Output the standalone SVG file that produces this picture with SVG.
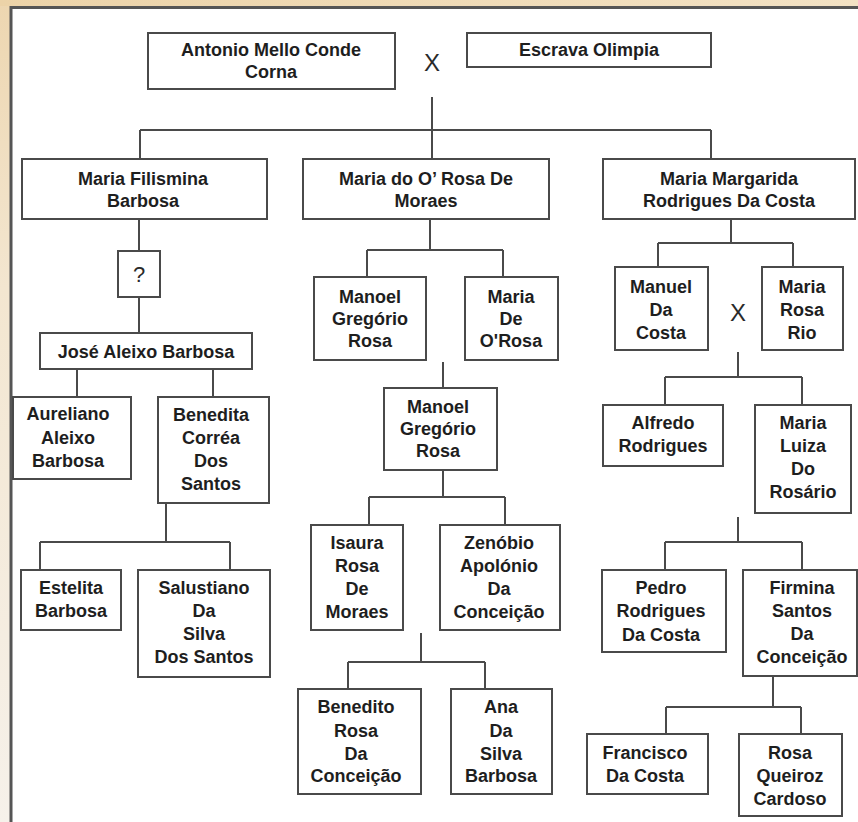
<svg xmlns="http://www.w3.org/2000/svg" width="858" height="822" viewBox="0 0 858 822">
<defs>
<linearGradient id="bgL" x1="0" y1="0" x2="0" y2="1">
<stop offset="0" stop-color="#edd6b0"/>
<stop offset="0.35" stop-color="#f3e6d0"/>
<stop offset="1" stop-color="#f6f1ea"/>
</linearGradient>
<linearGradient id="bgT" x1="0" y1="0" x2="1" y2="0">
<stop offset="0" stop-color="#ecd3a8"/>
<stop offset="1" stop-color="#f3e2c4"/>
</linearGradient>
</defs>
<style>
.box{fill:#ffffff;stroke:#4a4a4a;stroke-width:2}
.t{font-family:"Liberation Sans",Arial,sans-serif;font-weight:bold;font-size:18px;fill:#1e1e1e;text-anchor:middle}
.x{font-family:"Liberation Sans",Arial,sans-serif;font-weight:normal;font-size:24px;fill:#2a2a2a;text-anchor:middle}
.c{fill:none;stroke:#4a4a4a;stroke-width:2}
</style>
<rect x="0" y="0" width="858" height="822" fill="#ffffff"/>
<rect x="0" y="0" width="10" height="822" fill="url(#bgL)"/>
<rect x="0" y="0" width="858" height="6" fill="url(#bgT)"/>
<path d="M11,822 V7.5 H858" fill="none" stroke="#555555" stroke-width="3"/>

<g id="connectors" class="c">
<path d="M432,97 V159 M140,130 H711 M140,130 V159 M711,130 V159"/>
<path d="M139,219 V251 M139,297 V333"/>
<path d="M77,369 V397 M213,369 V397"/>
<path d="M166,503 V542 M40,542 H230 M40,542 V570 M230,542 V570"/>
<path d="M430,219 V250 M367,250 H503 M367,250 V277 M503,250 V277"/>
<path d="M443,362 V388"/>
<path d="M443,470 V497 M369,497 H505 M369,497 V525 M505,497 V525"/>
<path d="M421,633 V662 M348,662 H485 M348,662 V689 M485,662 V689"/>
<path d="M731,219 V243 M658,243 H793 M658,243 V267 M793,243 V267"/>
<path d="M738,352 V377 M665,377 H802 M665,377 V405 M802,377 V405"/>
<path d="M738,517 V542 M665,542 H802 M665,542 V570 M802,542 V570"/>
<path d="M773,676 V707 M666,707 H801 M666,707 V734 M801,707 V734"/>
</g>

<g id="antonio"><rect class="box" x="148" y="33" width="247" height="56"/>
<text class="t" x="271" y="56">Antonio Mello Conde</text><text class="t" x="271" y="78">Corna</text></g>
<g id="x1"><text class="x" x="432" y="71">X</text></g>
<g id="escrava"><rect class="box" x="467" y="33" width="244" height="34"/>
<text class="t" x="589" y="56">Escrava Olimpia</text></g>

<g id="filismina"><rect class="box" x="22" y="159" width="245" height="60"/>
<text class="t" x="143" y="185">Maria Filismina</text><text class="t" x="143" y="207">Barbosa</text></g>
<g id="mariado"><rect class="box" x="303" y="159" width="246" height="60"/>
<text class="t" x="426" y="185">Maria do O’ Rosa De</text><text class="t" x="426" y="207">Moraes</text></g>
<g id="margarida"><rect class="box" x="603" y="159" width="252" height="60"/>
<text class="t" x="729" y="185">Maria Margarida</text><text class="t" x="729" y="207">Rodrigues Da Costa</text></g>

<g id="unknown"><rect class="box" x="118" y="251" width="42" height="46"/>
<text class="x" x="139" y="282" style="font-size:22px">?</text></g>
<g id="jose"><rect class="box" x="40" y="333" width="212" height="36"/>
<text class="t" x="146" y="358">José Aleixo Barbosa</text></g>

<g id="aureliano"><rect class="box" x="13" y="397" width="118" height="82"/>
<text class="t" x="68" y="420">Aureliano</text><text class="t" x="68" y="444">Aleixo</text><text class="t" x="68" y="467">Barbosa</text></g>
<g id="benedita"><rect class="box" x="158" y="397" width="111" height="106"/>
<text class="t" x="211" y="421">Benedita</text><text class="t" x="211" y="444">Corréa</text><text class="t" x="211" y="467">Dos</text><text class="t" x="211" y="490">Santos</text></g>
<g id="estelita"><rect class="box" x="21" y="570" width="100" height="60"/>
<text class="t" x="71" y="594">Estelita</text><text class="t" x="71" y="617">Barbosa</text></g>
<g id="salustiano"><rect class="box" x="138" y="570" width="132" height="107"/>
<text class="t" x="204" y="594">Salustiano</text><text class="t" x="204" y="617">Da</text><text class="t" x="204" y="640">Silva</text><text class="t" x="204" y="663">Dos Santos</text></g>

<g id="manoel1"><rect class="box" x="314" y="277" width="112" height="83"/>
<text class="t" x="370" y="303">Manoel</text><text class="t" x="370" y="325">Gregório</text><text class="t" x="370" y="347">Rosa</text></g>
<g id="mariade"><rect class="box" x="465" y="277" width="93" height="83"/>
<text class="t" x="511" y="303">Maria</text><text class="t" x="511" y="325">De</text><text class="t" x="511" y="347">O'Rosa</text></g>
<g id="manoel2"><rect class="box" x="384" y="388" width="113" height="82"/>
<text class="t" x="438" y="413">Manoel</text><text class="t" x="438" y="435">Gregório</text><text class="t" x="438" y="457">Rosa</text></g>
<g id="isaura"><rect class="box" x="311" y="525" width="92" height="105"/>
<text class="t" x="357" y="549">Isaura</text><text class="t" x="357" y="572">Rosa</text><text class="t" x="357" y="595">De</text><text class="t" x="357" y="618">Moraes</text></g>
<g id="zenobio"><rect class="box" x="440" y="525" width="120" height="105"/>
<text class="t" x="499" y="549">Zenóbio</text><text class="t" x="499" y="572">Apolónio</text><text class="t" x="499" y="595">Da</text><text class="t" x="499" y="618">Conceição</text></g>
<g id="benedito"><rect class="box" x="298" y="689" width="123" height="105"/>
<text class="t" x="356" y="713">Benedito</text><text class="t" x="356" y="737">Rosa</text><text class="t" x="356" y="760">Da</text><text class="t" x="356" y="782">Conceição</text></g>
<g id="ana"><rect class="box" x="451" y="689" width="101" height="105"/>
<text class="t" x="501" y="713">Ana</text><text class="t" x="501" y="737">Da</text><text class="t" x="501" y="760">Silva</text><text class="t" x="501" y="782">Barbosa</text></g>

<g id="manuel"><rect class="box" x="615" y="267" width="93" height="83"/>
<text class="t" x="661" y="293">Manuel</text><text class="t" x="661" y="316">Da</text><text class="t" x="661" y="339">Costa</text></g>
<g id="x2"><text class="x" x="738" y="321">X</text></g>
<g id="mariarosa"><rect class="box" x="762" y="267" width="81" height="83"/>
<text class="t" x="802" y="293">Maria</text><text class="t" x="802" y="316">Rosa</text><text class="t" x="802" y="339">Rio</text></g>
<g id="alfredo"><rect class="box" x="603" y="405" width="120" height="61"/>
<text class="t" x="663" y="429">Alfredo</text><text class="t" x="663" y="452">Rodrigues</text></g>
<g id="marialuiza"><rect class="box" x="755" y="405" width="96" height="108"/>
<text class="t" x="803" y="429">Maria</text><text class="t" x="803" y="452">Luiza</text><text class="t" x="803" y="475">Do</text><text class="t" x="803" y="498">Rosário</text></g>
<g id="pedro"><rect class="box" x="602" y="570" width="124" height="82"/>
<text class="t" x="661" y="594">Pedro</text><text class="t" x="661" y="617">Rodrigues</text><text class="t" x="661" y="641">Da Costa</text></g>
<g id="firmina"><rect class="box" x="743" y="570" width="114" height="106"/>
<text class="t" x="802" y="594">Firmina</text><text class="t" x="802" y="617">Santos</text><text class="t" x="802" y="640">Da</text><text class="t" x="802" y="663">Conceição</text></g>
<g id="francisco"><rect class="box" x="587" y="734" width="121" height="60"/>
<text class="t" x="645" y="759">Francisco</text><text class="t" x="645" y="782">Da Costa</text></g>
<g id="rosaqueiroz"><rect class="box" x="739" y="734" width="103" height="82"/>
<text class="t" x="790" y="759">Rosa</text><text class="t" x="790" y="782">Queiroz</text><text class="t" x="790" y="805">Cardoso</text></g>
</svg>
